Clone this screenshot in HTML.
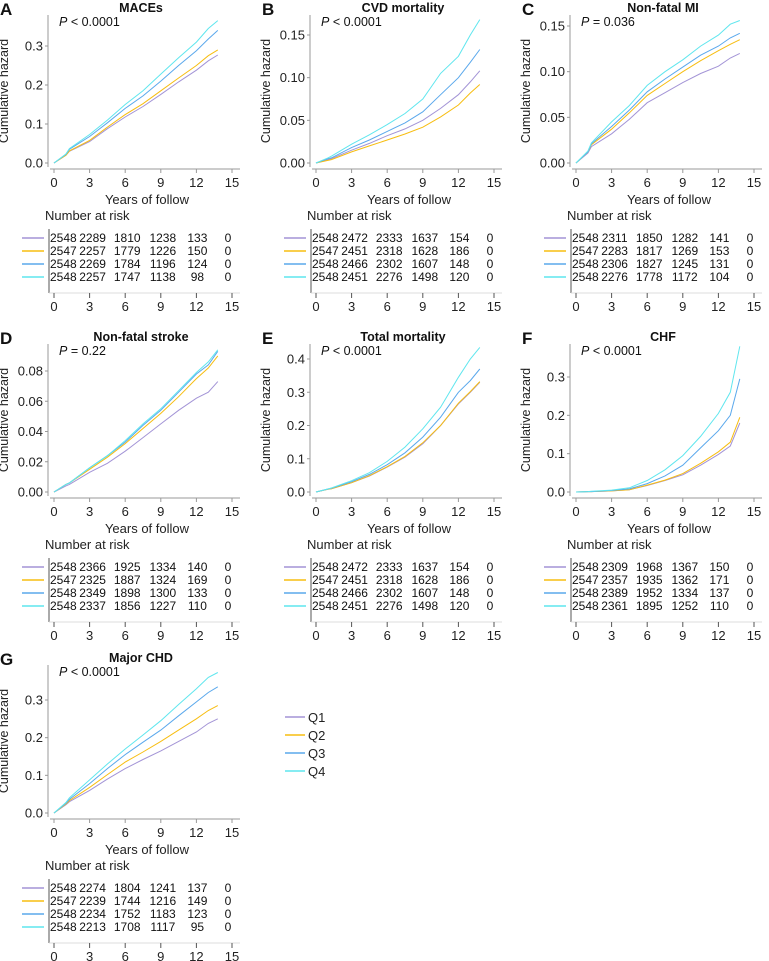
<!DOCTYPE html>
<html><head><meta charset="utf-8"><style>
html,body{margin:0;padding:0;background:#fff;}
svg{display:block;font-family:"Liberation Sans","DejaVu Sans",sans-serif;}
</style></head><body>
<svg id="fig" width="769" height="961" viewBox="0 0 769 961"></svg>
<script>
const times = [0,1,1.3,3,4.5,6,7.5,9,10.5,12,13,13.8];
const groupNames = ['Q1','Q2','Q3','Q4'];
const colors = ['#a394d6','#f7bd10','#5aa8ec','#5fe6ee'];
const riskTimes = [0,3,6,9,12,15];

const A_Q1=[0,0.02,0.03,0.055,0.088,0.118,0.145,0.176,0.208,0.238,0.262,0.277];
const A_Q2=[0,0.02,0.031,0.058,0.092,0.124,0.152,0.185,0.218,0.25,0.275,0.29];
const A_Q3=[0,0.022,0.035,0.068,0.103,0.14,0.172,0.21,0.25,0.288,0.318,0.34];
const A_Q4=[0,0.023,0.037,0.073,0.11,0.15,0.185,0.228,0.27,0.31,0.345,0.365];
const B_Q1=[0,0.004,0.005,0.015,0.023,0.032,0.04,0.05,0.064,0.08,0.095,0.108];
const B_Q2=[0,0.003,0.004,0.013,0.02,0.027,0.034,0.042,0.054,0.068,0.082,0.092];
const B_Q3=[0,0.005,0.006,0.018,0.027,0.037,0.047,0.06,0.08,0.1,0.118,0.133];
const B_Q4=[0,0.006,0.008,0.022,0.033,0.045,0.058,0.075,0.105,0.125,0.15,0.168];
const C_Q1=[0,0.011,0.018,0.032,0.048,0.066,0.077,0.088,0.098,0.106,0.115,0.12];
const C_Q2=[0,0.012,0.02,0.037,0.055,0.074,0.087,0.1,0.112,0.123,0.13,0.135];
const C_Q3=[0,0.012,0.021,0.04,0.058,0.078,0.092,0.105,0.118,0.128,0.137,0.142];
const C_Q4=[0,0.013,0.022,0.045,0.063,0.085,0.1,0.113,0.128,0.14,0.152,0.156];
const D_Q1=[0,0.004,0.005,0.013,0.019,0.027,0.036,0.045,0.054,0.062,0.066,0.073];
const D_Q2=[0,0.005,0.006,0.015,0.023,0.032,0.042,0.052,0.063,0.075,0.082,0.09];
const D_Q3=[0,0.005,0.006,0.016,0.024,0.033,0.044,0.054,0.066,0.078,0.084,0.093];
const D_Q4=[0,0.005,0.006,0.016,0.024,0.034,0.045,0.055,0.067,0.079,0.086,0.094];
const E_Q1=[0,0.008,0.01,0.028,0.048,0.075,0.105,0.145,0.2,0.265,0.3,0.33];
const E_Q2=[0,0.008,0.01,0.028,0.049,0.076,0.107,0.148,0.2,0.267,0.302,0.332];
const E_Q3=[0,0.009,0.011,0.031,0.053,0.082,0.118,0.165,0.225,0.3,0.335,0.37];
const E_Q4=[0,0.009,0.012,0.034,0.058,0.092,0.135,0.19,0.255,0.345,0.4,0.435];
const F_Q1=[0,0.001,0.001,0.003,0.006,0.017,0.03,0.045,0.07,0.098,0.12,0.18];
const F_Q2=[0,0.001,0.001,0.003,0.006,0.018,0.031,0.048,0.075,0.105,0.13,0.195];
const F_Q3=[0,0.001,0.001,0.004,0.008,0.022,0.042,0.07,0.115,0.16,0.2,0.295];
const F_Q4=[0,0.001,0.002,0.005,0.011,0.03,0.058,0.095,0.145,0.205,0.26,0.38];
const G_Q1=[0,0.022,0.03,0.06,0.09,0.118,0.142,0.165,0.19,0.215,0.238,0.25];
const G_Q2=[0,0.024,0.033,0.068,0.102,0.135,0.162,0.19,0.22,0.25,0.272,0.285];
const G_Q3=[0,0.026,0.036,0.078,0.118,0.155,0.188,0.22,0.258,0.295,0.32,0.335];
const G_Q4=[0,0.028,0.04,0.088,0.13,0.17,0.207,0.245,0.288,0.33,0.36,0.373];

const A_risk=[[2548,2289,1810,1238,133,0],[2547,2257,1779,1226,150,0],[2548,2269,1784,1196,124,0],[2548,2257,1747,1138,98,0]];
const B_risk=[[2548,2472,2333,1637,154,0],[2547,2451,2318,1628,186,0],[2548,2466,2302,1607,148,0],[2548,2451,2276,1498,120,0]];
const C_risk=[[2548,2311,1850,1282,141,0],[2547,2283,1817,1269,153,0],[2548,2306,1827,1245,131,0],[2548,2276,1778,1172,104,0]];
const D_risk=[[2548,2366,1925,1334,140,0],[2547,2325,1887,1324,169,0],[2548,2349,1898,1300,133,0],[2548,2337,1856,1227,110,0]];
const E_risk=[[2548,2472,2333,1637,154,0],[2547,2451,2318,1628,186,0],[2548,2466,2302,1607,148,0],[2548,2451,2276,1498,120,0]];
const F_risk=[[2548,2309,1968,1367,150,0],[2547,2357,1935,1362,171,0],[2548,2389,1952,1334,137,0],[2548,2361,1895,1252,110,0]];
const G_risk=[[2548,2274,1804,1241,137,0],[2547,2239,1744,1216,149,0],[2548,2234,1752,1183,123,0],[2548,2213,1708,1117,95,0]];

const ticks1=['0.0','0.1','0.2','0.3'];
const ticks2=['0.00','0.05','0.10','0.15'];
const ticks3=['0.00','0.02','0.04','0.06','0.08'];
const ticks4=['0.0','0.1','0.2','0.3','0.4'];
const xTicks=['0','3','6','9','12','15'];

const panels=[
 {id:'A',title:'MACEs',p:'< 0.0001',ox:54,zy:163,tmax:0.3,tpx:117,ticks:ticks1,s:[A_Q1,A_Q2,A_Q3,A_Q4],risk:A_risk},
 {id:'B',title:'CVD mortality',p:'< 0.0001',ox:316,zy:163,tmax:0.15,tpx:128,ticks:ticks2,s:[B_Q1,B_Q2,B_Q3,B_Q4],risk:B_risk},
 {id:'C',title:'Non-fatal MI',p:'= 0.036',ox:576,zy:163,tmax:0.15,tpx:137,ticks:ticks2,s:[C_Q1,C_Q2,C_Q3,C_Q4],risk:C_risk},
 {id:'D',title:'Non-fatal stroke',p:'= 0.22',ox:54,zy:492,tmax:0.08,tpx:121,ticks:ticks3,s:[D_Q1,D_Q2,D_Q3,D_Q4],risk:D_risk},
 {id:'E',title:'Total mortality',p:'< 0.0001',ox:316,zy:492,tmax:0.4,tpx:133,ticks:ticks4,s:[E_Q1,E_Q2,E_Q3,E_Q4],risk:E_risk},
 {id:'F',title:'CHF',p:'< 0.0001',ox:576,zy:492,tmax:0.3,tpx:115,ticks:ticks1,s:[F_Q1,F_Q2,F_Q3,F_Q4],risk:F_risk},
 {id:'G',title:'Major CHD',p:'< 0.0001',ox:54,zy:813,tmax:0.3,tpx:113,ticks:ticks1,s:[G_Q1,G_Q2,G_Q3,G_Q4],risk:G_risk}
];

const svg=document.getElementById('fig');
const NS='http://www.w3.org/2000/svg';
function mk(tag,attrs,parent,text){
  const e=document.createElementNS(NS,tag);
  for(const k in attrs)e.setAttribute(k,attrs[k]);
  if(text!==undefined)e.textContent=text;
  (parent||svg).appendChild(e);
  return e;
}
const XW=178/15;

panels.forEach(pn=>{
  const g=mk('g',{});
  
  
  const x=t=>pn.ox+t*XW;
  const y=v=>pn.zy-v/pn.tmax*pn.tpx;
  const zy=pn.zy, ox=pn.ox;
  const lab=mk('text',{x:ox-54,y:zy-148,'font-size':17,'font-weight':'bold',fill:'#111'},g,pn.id);
  
  
  const tt=mk('text',{x:ox+87,y:zy-151,'font-size':12.5,'font-weight':'bold','text-anchor':'middle',fill:'#111'},g,pn.title);
  
  
  const pt=mk('text',{x:ox+5,y:zy-137,'font-size':12.5,fill:'#111'},g);
  
  
  mk('tspan',{'font-style':'italic'},pt,'P');
  mk('tspan',{},pt,' '+pn.p);
  const ya=mk('line',{x1:ox-6,y1:zy-148,x2:ox-6,y2:zy+4,stroke:'#999','stroke-width':1},g);
  
  
  pn.ticks.forEach((tl,i)=>{
    const v=pn.tmax*i/(pn.ticks.length-1);
    mk('line',{x1:ox-9,y1:y(v),x2:ox-6,y2:y(v),stroke:'#999'},g);
    const t=mk('text',{x:ox-11,y:y(v)+4.5,'font-size':13,'text-anchor':'end',fill:'#222'},g,tl);
    
    
  });
  const yt=mk('text',{x:0,y:0,'font-size':12.5,'text-anchor':'middle',fill:'#222',transform:`translate(${ox-46},${zy-72}) rotate(-90)`},g,'Cumulative hazard');
  
  
  const xa=mk('line',{x1:ox-4,y1:zy+6,x2:ox+186,y2:zy+6,stroke:'#999'},g);
  
  
  xTicks.forEach((tl,i)=>{
    const xx=x(riskTimes[i]);
    mk('line',{x1:xx,y1:zy+6,x2:xx,y2:zy+10,stroke:'#999'},g);
    const t=mk('text',{x:xx,y:zy+24,'font-size':13,'text-anchor':'middle',fill:'#222'},g,tl);
    
    
  });
  const xt=mk('text',{x:ox+93,y:zy+41,'font-size':13,'text-anchor':'middle',fill:'#222'},g,'Years of follow');
  
  
  pn.s.forEach((arr,k)=>{
    let d='';
    arr.forEach((v,i)=>{d+=(i?'L':'M')+x(times[i]).toFixed(1)+','+y(v).toFixed(1);});
    const p=mk('path',{d:d,fill:'none',stroke:colors[k],'stroke-width':1},g);
    
    
  });
  const nr=mk('text',{x:ox-9,y:zy+57,'font-size':13,fill:'#222'},g,'Number at risk');
  
  
  mk('line',{x1:ox-5,y1:zy+66,x2:ox-5,y2:zy+130,stroke:'#555'},g);
  mk('line',{x1:ox-5,y1:zy+130,x2:ox+186,y2:zy+130,stroke:'#ddd'},g);
  const offs=[0,3,2,2,1,-4];
  pn.risk.forEach((row,k)=>{
    const ry=zy+75+k*13;
    const ln=mk('line',{x1:ox-32,y1:ry,x2:ox-10,y2:ry,stroke:colors[k],'stroke-width':1.5},g);
    
    
    row.forEach((n,i)=>{
      const attrs=i===0?{x:ox-4,y:ry+4}:{x:x(riskTimes[i])+offs[i],y:ry+4,'text-anchor':'middle'};
      attrs['font-size']=12;attrs.fill='#111';
      const t=mk('text',attrs,g,String(n));
      
      
    });
  });
  xTicks.forEach((tl,i)=>{
    const xx=x(riskTimes[i]);
    mk('line',{x1:xx,y1:zy+130,x2:xx,y2:zy+135,stroke:'#555'},g);
    const t=mk('text',{x:xx,y:zy+148,'font-size':13,'text-anchor':'middle',fill:'#222'},g,tl);
    
    
  });
});

const lg=mk('g',{});


groupNames.forEach((nm,k)=>{
  const ly=717+k*18;
  const l=mk('line',{x1:285,y1:ly,x2:305,y2:ly,stroke:colors[k],'stroke-width':1.5},lg);
  
  
  const t=mk('text',{x:308,y:ly+5,'font-size':13,fill:'#222'},lg,nm);
  
  
});
</script>
</body></html>
